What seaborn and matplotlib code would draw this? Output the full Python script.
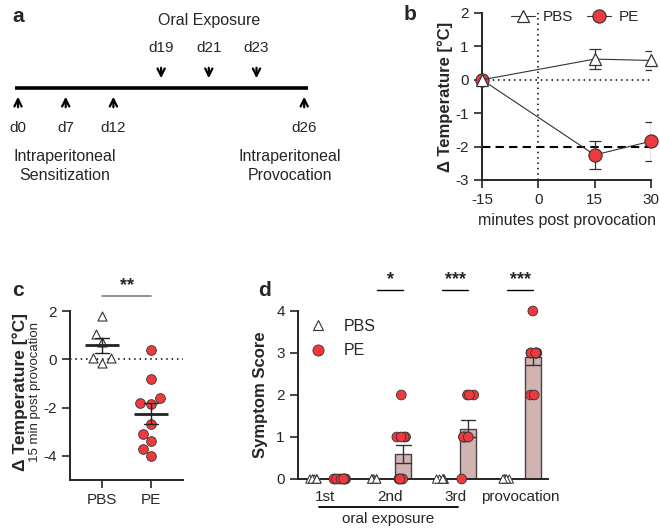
import numpy as np
import pandas as pd
import matplotlib
matplotlib.use("Agg")
import matplotlib.pyplot as plt
import seaborn as sns

# ---- data ----
# panel a: protocol timeline
days = ["d0", "d7", "d12", "d19", "d21", "d23", "d26"]
day_dir = ["up", "up", "up", "down", "down", "down", "up"]

# panel b: temperature course (mean +/- SEM)
minutes = [-15, 15, 30]
pbs_mean = [0.0, 0.62, 0.58]
pbs_sem = [0.0, 0.30, 0.29]
pe_mean = [0.0, -2.25, -1.84]
pe_sem = [0.0, 0.43, 0.58]

# panel c: individual temperature change 15 min post provocation
c_pbs = [1.8, 1.05, 0.7, 0.05, 0.05, -0.15]
c_pe = [0.4, -0.8, -1.8, -1.6, -1.85, -2.7, -3.1, -3.4, -3.7, -4.0]

# panel d: symptom scores
d_phases = ["1st", "2nd", "3rd", "provocation"]
d_pbs = {p: [0, 0, 0, 0, 0, 0] for p in d_phases}
d_pe = {
    "1st": [0, 0, 0, 0, 0, 0, 0, 0, 0, 0],
    "2nd": [2, 1, 1, 1, 1, 0, 0, 0, 0, 0],
    "3rd": [2, 2, 2, 1, 1, 1, 1, 1, 1, 0],
    "provocation": [4, 3, 3, 3, 3, 3, 3, 3, 2, 2],
}
d_sig = {"2nd": "*", "3rd": "***", "provocation": "***"}

RED = "#ee3a3f"
BAR = "#d6aeac"
np.random.seed(3)

sns.set_theme(style="ticks")
plt.rcParams["font.family"] = ["Liberation Sans", "DejaVu Sans"]
plt.rcParams["axes.unicode_minus"] = False
plt.rcParams["axes.linewidth"] = 1.4
plt.rcParams["xtick.major.width"] = 1.2
plt.rcParams["ytick.major.width"] = 1.2
plt.rcParams["xtick.labelsize"] = 11
plt.rcParams["ytick.labelsize"] = 11

fig = plt.figure(figsize=(6.6, 5.3), dpi=100)
W, H = 660, 530


def px_axes(l, t, r, b):
    return fig.add_axes([l / W, 1 - b / H, (r - l) / W, (b - t) / H])


# ---- panel a ----
ax_a = px_axes(0, 0, 330, 200)
ax_a.set_xlim(0, 330)
ax_a.set_ylim(200, 0)
ax_a.axis("off")
ax_a.plot([15, 308], [88, 88], color="black", lw=2.6, solid_capstyle="butt")
xs = 18 + np.arange(len(days)) * 47.7
arrow_kw = dict(arrowstyle="->", lw=1.6, color="black", mutation_scale=13)
for x, lab, d in zip(xs, days, day_dir):
    if d == "up":
        ax_a.annotate("", xy=(x, 94), xytext=(x, 110), arrowprops=arrow_kw)
        ax_a.text(x, 128, lab, ha="center", va="center", fontsize=11)
    else:
        ax_a.annotate("", xy=(x, 81), xytext=(x, 65), arrowprops=arrow_kw)
        ax_a.text(x, 48, lab, ha="center", va="center", fontsize=11)
ax_a.text(xs[4], 20, "Oral Exposure", ha="center", va="center", fontsize=11.5)
ax_a.text(65, 166, "Intraperitoneal\nSensitization", ha="center", va="center",
          fontsize=11.5, linespacing=1.25)
ax_a.text(290, 166, "Intraperitoneal\nProvocation", ha="center", va="center",
          fontsize=11.5, linespacing=1.25)
fig.text(12 / W, 1 - 16 / H, "a", fontsize=15, fontweight="bold", va="center")

# ---- panel b ----
ax_b = px_axes(482, 13, 651, 180)
ax_b.axvline(0, color="black", ls=(0, (1, 2.5)), lw=1.1, zorder=0)
ax_b.axhline(0, color="black", ls=(0, (1, 2.5)), lw=1.1, zorder=0)
ax_b.axhline(-2, color="black", ls=(0, (4, 2.5)), lw=1.5, zorder=0)
df_b = pd.DataFrame({"minutes": minutes, "PBS": pbs_mean, "PE": pe_mean})
sns.lineplot(data=df_b, x="minutes", y="PE", ax=ax_b, color="#333333", lw=0.8,
             marker="o", markersize=9.5, markerfacecolor=RED,
             markeredgecolor="#333333", markeredgewidth=0.8, label="PE", zorder=3,
             clip_on=False)
sns.lineplot(data=df_b, x="minutes", y="PBS", ax=ax_b, color="#333333", lw=0.8,
             marker="^", markersize=9, markerfacecolor="white",
             markeredgecolor="#333333", markeredgewidth=0.9, label="PBS", zorder=4,
             clip_on=False)
ax_b.errorbar(minutes, pbs_mean, yerr=pbs_sem, fmt="none", ecolor="#333333",
              elinewidth=0.9, capsize=4, capthick=0.9, zorder=2)
ax_b.errorbar(minutes, pe_mean, yerr=pe_sem, fmt="none", ecolor="#333333",
              elinewidth=0.9, capsize=4, capthick=0.9, zorder=2)
ax_b.set_xlim(-15, 30)
ax_b.set_ylim(-3, 2)
ax_b.set_xticks([-15, 0, 15, 30])
ax_b.set_yticks([-3, -2, -1, 0, 1, 2])
ax_b.set_xlabel("minutes post provocation", fontsize=11.5)
ax_b.set_ylabel("Δ Temperature [°C]", fontsize=12, fontweight="bold", labelpad=2)
handles, labels = ax_b.get_legend_handles_labels()
ax_b.legend(handles[::-1], labels[::-1], ncol=2, frameon=False, loc="upper center",
            bbox_to_anchor=(0.55, 1.1), fontsize=11, handlelength=1.6,
            columnspacing=0.9, handletextpad=0.5)
sns.despine(ax=ax_b)
fig.text(404 / W, 1 - 15 / H, "b", fontsize=15, fontweight="bold", va="center")

# ---- panel c ----
ax_c = px_axes(70, 311, 183, 480)
df_c = pd.DataFrame({"group": ["PBS"] * len(c_pbs) + ["PE"] * len(c_pe),
                     "dT": c_pbs + c_pe})
ax_c.axhline(0, color="black", ls=(0, (1, 2.5)), lw=1.1, zorder=0)
sns.swarmplot(data=df_c[df_c.group == "PBS"], x="group", y="dT", ax=ax_c,
              order=["PBS", "PE"], marker="^", color="white", edgecolor="#333333",
              linewidth=0.8, size=6.5, zorder=3)
sns.swarmplot(data=df_c[df_c.group == "PE"], x="group", y="dT", ax=ax_c,
              order=["PBS", "PE"], marker="o", color=RED, edgecolor="#333333",
              linewidth=0.6, size=7, zorder=3)
sns.pointplot(data=df_c, x="group", y="dT", ax=ax_c, order=["PBS", "PE"],
              errorbar="se", linestyle="none", markers="_", markersize=24,
              markeredgewidth=2, color="#222222", capsize=0.28,
              err_kws={"linewidth": 1.0}, zorder=4)
ax_c.set_xlim(-0.65, 1.65)
ax_c.set_ylim(-5, 2)
ax_c.set_yticks([-4, -2, 0, 2])
ax_c.set_xlabel("")
ax_c.set_ylabel("")
sns.despine(ax=ax_c)
ax_c.text(-0.44, 0.52, "Δ Temperature [°C]", transform=ax_c.transAxes, rotation=90,
          ha="center", va="center", fontsize=12.5, fontweight="bold")
ax_c.text(-0.31, 0.52, "15 min post provocation", transform=ax_c.transAxes,
          rotation=90, ha="center", va="center", fontsize=9.5)
ax_c.plot([0, 1], [2.62, 2.62], color="#888888", lw=1.3, clip_on=False)
ax_c.text(0.5, 2.72, "**", ha="center", va="bottom", fontsize=13,
          fontweight="bold")
fig.text(12 / W, 1 - 290 / H, "c", fontsize=15, fontweight="bold", va="center")

# ---- panel d ----
ax_d = px_axes(298, 311, 548, 479)
rows = []
for p in d_phases:
    rows += [(p, "PBS", v) for v in d_pbs[p]]
    rows += [(p, "PE", v) for v in d_pe[p]]
df_d = pd.DataFrame(rows, columns=["phase", "group", "score"])
sns.barplot(data=df_d, x="phase", y="score", hue="group", order=d_phases,
            hue_order=["PBS", "PE"], palette={"PBS": "white", "PE": BAR},
            errorbar="se", capsize=0.45, width=0.8, gap=0.38, edgecolor="#444444",
            linewidth=1.0, err_kws={"linewidth": 1.0, "color": "#333333"},
            ax=ax_d, legend=False)
n_before = len(ax_d.collections)
sns.stripplot(data=df_d[df_d.group == "PBS"], x="phase", y="score", hue="group",
              order=d_phases, hue_order=["PBS", "PE"],
              palette={"PBS": "white", "PE": RED}, dodge=True, jitter=0.18,
              marker="^", size=6, edgecolor="#333333", linewidth=0.7, ax=ax_d,
              legend=False, zorder=3)
sns.stripplot(data=df_d[df_d.group == "PE"], x="phase", y="score", hue="group",
              order=d_phases, hue_order=["PBS", "PE"],
              palette={"PBS": "white", "PE": RED}, dodge=True, jitter=0.24,
              marker="o", size=7, edgecolor="#333333", linewidth=0.6, ax=ax_d,
              legend=False, zorder=3)
# let points on the zero line sit over the axis instead of being cut in half
for coll in ax_d.collections[n_before:]:
    offs = np.asarray(coll.get_offsets())
    if (coll.get_offset_transform() is ax_d.transData and len(offs)
            and np.isfinite(offs).all()):
        coll.set_clip_on(False)
ax_d.set_xlim(-0.42, 3.43)
ax_d.set_ylim(0, 4)
ax_d.set_yticks([0, 1, 2, 3, 4])
ax_d.set_xlabel("")
ax_d.set_ylabel("Symptom Score", fontsize=12, fontweight="bold", labelpad=6)
ax_d.tick_params(axis="x", length=0, pad=8)
sns.despine(ax=ax_d)
for i, p in enumerate(d_phases):
    if p in d_sig:
        ax_d.plot([i - 0.2, i + 0.2], [4.5, 4.5], color="black", lw=1.0,
                  clip_on=False)
        ax_d.text(i, 4.55, d_sig[p], ha="center", va="bottom", fontsize=13,
                  fontweight="bold")
ax_d.plot([-0.1, 2.05], [-0.67, -0.67], color="black", lw=1.3, clip_on=False)
ax_d.text(0.97, -0.95, "oral exposure", ha="center", va="center", fontsize=11)
leg_h = [
    plt.Line2D([], [], ls="none", marker="^", markersize=7, markerfacecolor="white",
               markeredgecolor="#333333", markeredgewidth=0.8),
    plt.Line2D([], [], ls="none", marker="o", markersize=8, markerfacecolor=RED,
               markeredgecolor="#333333", markeredgewidth=0.6),
]
ax_d.legend(leg_h, ["PBS", "PE"], loc="upper left", bbox_to_anchor=(-0.04, 1.04),
            frameon=False, fontsize=11.5, handletextpad=0.6, labelspacing=0.6)
fig.text(258 / W, 1 - 290 / H, "d", fontsize=15, fontweight="bold", va="center")

fig.savefig("out.png", dpi=100)
